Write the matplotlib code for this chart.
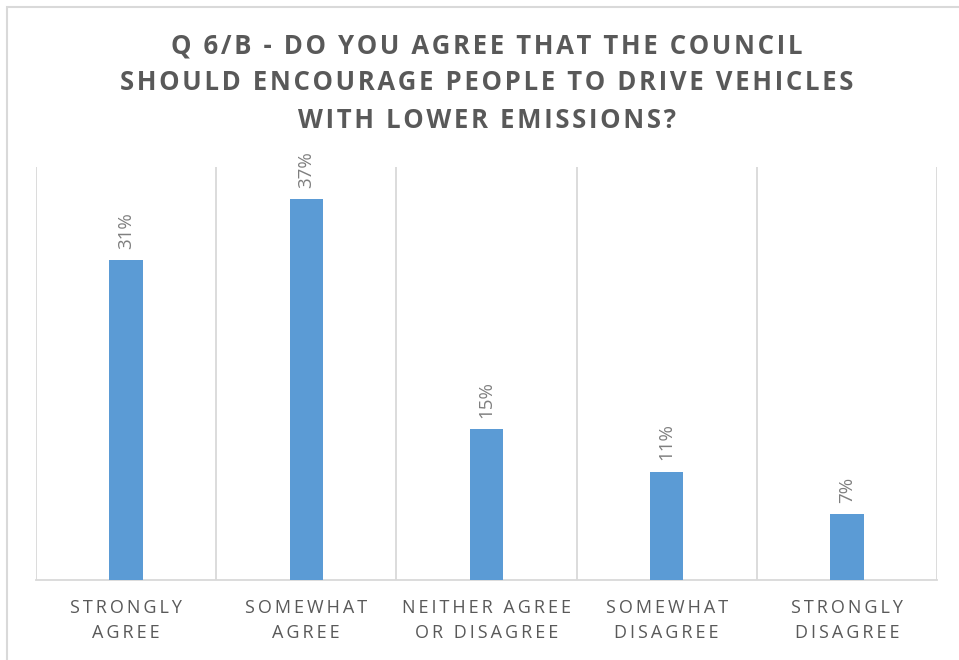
import matplotlib
matplotlib.use("Agg")
import matplotlib.pyplot as plt
from matplotlib.patches import Rectangle

categories = ["STRONGLY\nAGREE", "SOMEWHAT\nAGREE", "NEITHER AGREE\nOR DISAGREE",
              "SOMEWHAT\nDISAGREE", "STRONGLY\nDISAGREE"]
values = [31.0, 36.9, 14.6, 10.5, 6.4]
value_labels = ["31%", "37%", "15%", "11%", "7%"]
title_lines = ["Q 6/B - DO YOU AGREE THAT THE COUNCIL",
               "SHOULD ENCOURAGE PEOPLE TO DRIVE VEHICLES",
               "WITH LOWER EMISSIONS?"]

FAM = ["Open Sans", "DejaVu Sans"]
TS = "\u2009"


def spaced(s, sep=TS, word=" "):
    lines = []
    for line in s.split("\n"):
        words = [sep.join(list(w)) for w in line.split(" ")]
        lines.append((sep + word + sep).join(words))
    return "\n".join(lines)


fig = plt.figure(figsize=(9.59, 6.6), dpi=100)
fig.patch.set_facecolor("white")
fig.add_artist(Rectangle((7 / 959, -0.1), 1.1, (660 - 7) / 660 + 0.1,
                         transform=fig.transFigure, fill=False,
                         edgecolor="#d9d9d9", linewidth=1.5))

ax = fig.add_axes([36 / 959, 1 - 580 / 660, (937 - 36) / 959, (580 - 167) / 660])
x = range(len(categories))
ax.bar(x, values, width=0.185, color="#5b9bd5", zorder=3)
ax.set_xlim(-0.5, len(categories) - 0.5)
ax.set_ylim(0, 40)
ax.set_yticks([])
for b in [i - 0.5 for i in range(len(categories) + 1)]:
    ax.axvline(b, color="#d9d9d9", linewidth=1.3, zorder=1)
for s in ["top", "left", "right"]:
    ax.spines[s].set_visible(False)
ax.spines["bottom"].set_color("#d9d9d9")
ax.spines["bottom"].set_linewidth(1.3)
ax.set_xticks(list(x))
ax.set_xticklabels([spaced(c) for c in categories], family=FAM, fontsize=13,
                   color="#595959", linespacing=1.5)
ax.tick_params(axis="x", length=0, pad=14)

for i, (v, lab) in enumerate(zip(values, value_labels)):
    ax.annotate(lab, (i, v), xytext=(0, 8), textcoords="offset points",
                rotation=90, ha="center", va="bottom", family=FAM,
                fontsize=13.5, color="#7f7f7f")

fig.text(0.508, 1 - 83 / 660, spaced("\n".join(title_lines), sep="\u200a"),
         ha="center", va="center", family=FAM, fontsize=18.5, fontweight="bold",
         color="#595959", linespacing=1.5)

fig.savefig("out.png", dpi=100, facecolor="white")
